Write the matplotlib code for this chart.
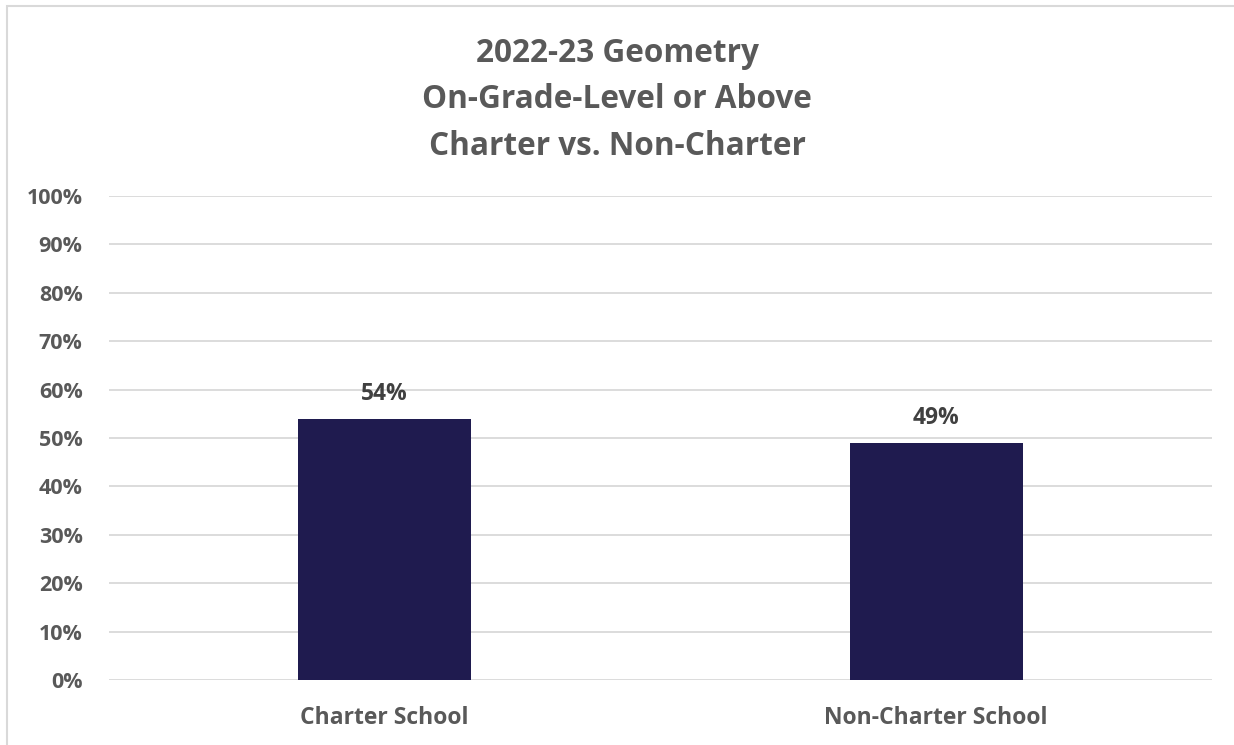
import matplotlib.pyplot as plt
from matplotlib.patches import Rectangle
from matplotlib.ticker import MultipleLocator, PercentFormatter

plt.rcParams['font.family'] = ['Open Sans', 'DejaVu Sans']

categories = ['Charter School', 'Non-Charter School']
values = [54, 49]
title = '2022-23 Geometry\nOn-Grade-Level or Above\nCharter vs. Non-Charter'

W, H = 1234, 745
fig = plt.figure(figsize=(W / 100, H / 100), dpi=100)
ax = fig.add_axes([109 / W, 1 - 680 / H, (1212 - 109) / W, (680 - 196) / H])

# chart area border (runs off the right/bottom edge)
fig.patches.append(Rectangle((7 / W, -0.1), 1.2, 1 - 6 / H + 0.1, transform=fig.transFigure,
                             fill=False, ec='#d9d9d9', lw=1.5))

x = range(len(categories))
ax.bar(x, values, width=0.314, color='#1f1b4f', zorder=3)
for xi, v in zip(x, values):
    ax.text(xi, v + 2.7, f'{v}%', ha='center', va='bottom', fontsize=16.5,
            fontweight='bold', color='#404040')

ax.set_xlim(-0.5, 1.5)
ax.set_ylim(0, 100)
ax.yaxis.set_major_locator(MultipleLocator(10))
ax.yaxis.set_major_formatter(PercentFormatter(decimals=0))
ax.grid(axis='y', color='#d9d9d9', lw=1.3, zorder=0)
for s in ax.spines.values():
    s.set_visible(False)
ax.tick_params(length=0)
ax.set_xticks(list(x), categories)
ax.tick_params(axis='y', pad=19, labelsize=15.5, labelcolor='#595959')
ax.tick_params(axis='x', pad=19, labelsize=16.5, labelcolor='#595959')
for lbl in ax.get_xticklabels() + ax.get_yticklabels():
    lbl.set_fontweight('bold')

fig.text(0.5, 1 - 100 / H, title, ha='center', va='center', fontsize=22.7,
         fontweight='bold', color='#595959', linespacing=1.55)

fig.savefig('out.png', dpi=100)
